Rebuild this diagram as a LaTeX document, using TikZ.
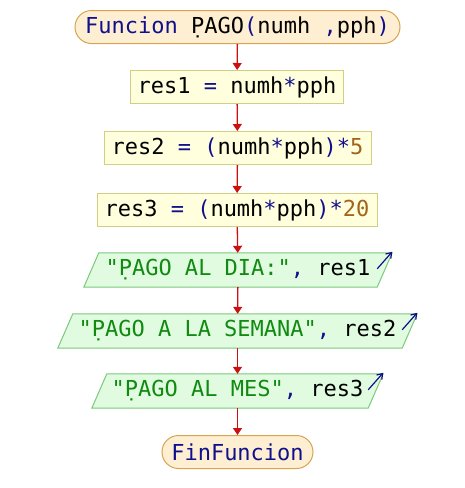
\documentclass[tikz,border=0pt]{standalone}
\usepackage{fontspec}
\newfontfamily\codefont{DejaVu Sans Mono}
\usetikzlibrary{shapes.misc,arrows.meta,calc}

\definecolor{termfill}{HTML}{FFEFD2}
\definecolor{termline}{HTML}{D6A451}
\definecolor{procfill}{HTML}{FFFFDD}
\definecolor{procline}{HTML}{D2CE84}
\definecolor{iofill}{HTML}{E0FBE0}
\definecolor{ioline}{HTML}{7CC87C}
\definecolor{kw}{HTML}{10108C}
\definecolor{str}{HTML}{108A10}
\definecolor{num}{HTML}{A0641C}
\definecolor{flow}{HTML}{CC1010}
\definecolor{outarrow}{HTML}{10108C}

\newcommand{\K}[1]{\textcolor{kw}{#1}}
\newcommand{\Str}[1]{\textcolor{str}{#1}}
\newcommand{\Num}[1]{\textcolor{num}{#1}}

\begin{document}
\begin{tikzpicture}[x=1pt,y=-1pt,
  every node/.style={font=\codefont\fontsize{22}{26}\selectfont, text=black, inner sep=0pt},
  terminal/.style={rounded rectangle, draw=termline, fill=termfill, line width=1pt, minimum height=33pt},
  procbox/.style={rectangle, draw=procline, fill=procfill, line width=1pt, minimum height=33pt},
  iobox/.style={rectangle, minimum height=34pt},
  iofill/.style={draw=ioline, fill=iofill, line width=1pt},
  flowline/.style={draw=flow, line width=1.3pt, -{Triangle[length=7pt,width=9pt]}},
  outline/.style={draw=outarrow, line width=1.2pt, -{Straight Barb[length=5pt,width=7pt]}}
]
\useasboundingbox (0,0) rectangle (465,488);

% terminals and process boxes
\node[terminal, minimum width=325pt] (start) at (237.5,27) {\K{Funcion} P^^^^0323AGO\K{(}numh \K{,}pph\K{)}};
\node[procbox, minimum width=213pt] (s1) at (237,87) {res1 \K{=} numh\K{*}pph};
\node[procbox, minimum width=267pt] (s2) at (237.5,148) {res2 \K{=} \K{(}numh\K{*}pph\K{)*}\Num{5}};
\node[procbox, minimum width=280pt] (s3) at (237,210) {res3 \K{=} \K{(}numh\K{*}pph\K{)*}\Num{20}};

% output blocks (parallelograms drawn around the text nodes)
\node[iobox, minimum width=308pt] (o1) at (238,270) {};
\node[iobox, minimum width=359pt] (o2) at (237.5,331) {};
\node[iobox, minimum width=291pt] (o3) at (237.5,391) {};
\foreach \n in {o1,o2,o3}{
  \path[iofill] (\n.south west) -- ($(\n.north west)+(15,0)$) -- (\n.north east)
    -- ($(\n.south east)+(-15,0)$) -- cycle;
}
\node at (o1.center) {\Str{"P^^^^0323AGO AL DIA:"}\K{,} res1};
\node at (o2.center) {\Str{"P^^^^0323AGO A LA SEMANA"}\K{,} res2};
\node at (o3.center) {\Str{"P^^^^0323AGO AL MES"}\K{,} res3};

\node[terminal, minimum width=151pt] (end) at (237.5,452) {\K{FinFuncion}};

% output markers
\foreach \n in {o1,o2,o3}{
  \coordinate (\n tail) at ($(\n.north east)+(-15,16)$);
  \coordinate (\n tip) at ($(\n.north east)+(0,-1)$);
  \draw[outline] (\n tail) -- (\n tip);
}

% flow connectors
\draw[flowline] (start) -- (s1);
\draw[flowline] (s1) -- (s2);
\draw[flowline] (s2) -- (s3);
\draw[flowline] (s3) -- (o1);
\draw[flowline] (o1) -- (o2);
\draw[flowline] (o2) -- (o3);
\draw[flowline] (o3) -- (end);
\end{tikzpicture}
\end{document}
